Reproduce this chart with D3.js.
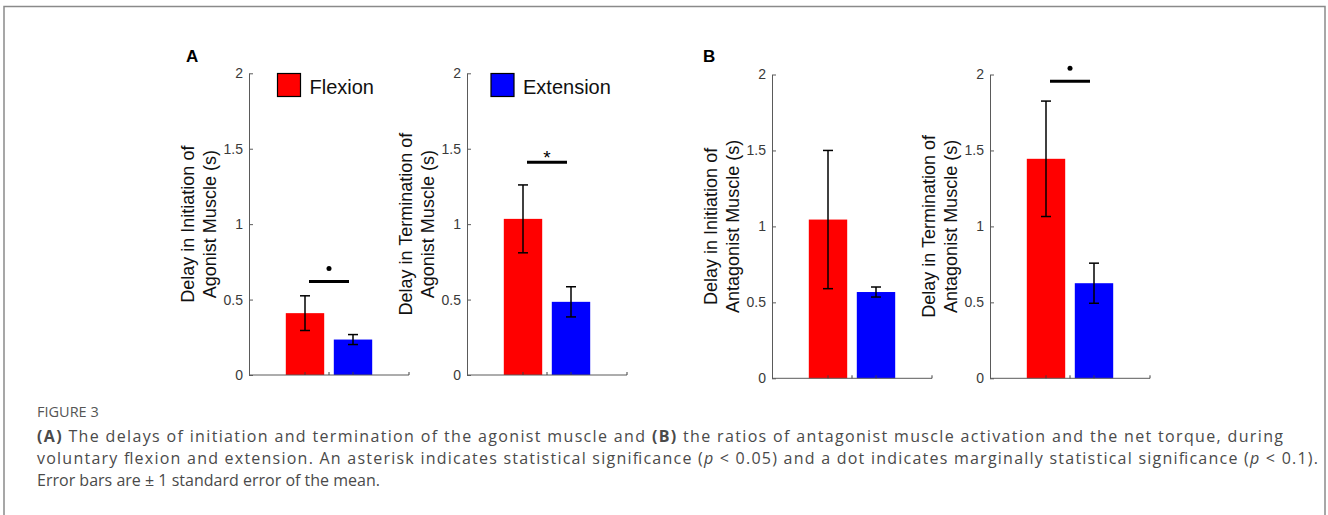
<!DOCTYPE html>
<html>
<head>
<meta charset="utf-8">
<script src="https://cdn.jsdelivr.net/npm/d3@7"></script>
<style>
  body { margin: 0; background: #fff; }
  svg { display: block; }
</style>
</head>
<body>
<div id="chart"></div>
<script>
// data
const categories = ["Flexion", "Extension"];
const yLabels = [
  ["Delay in Initiation of", "Agonist Muscle (s)"],
  ["Delay in Termination of", "Agonist Muscle (s)"],
  ["Delay in Initiation of", "Antagonist Muscle (s)"],
  ["Delay in Termination of", "Antagonist Muscle (s)"]
];
const flexionMean = [0.41, 1.035, 1.045, 1.445];
const flexionSE = [0.115, 0.225, 0.455, 0.38];
const extensionMean = [0.235, 0.485, 0.568, 0.626];
const extensionSE = [0.033, 0.10, 0.033, 0.132];
const sigMark = ["dot", "star", null, "dot"];
const sigLevel = [0.62, 1.41, null, 1.955];
const yTicks = [0, 0.5, 1, 1.5, 2];
const panelLetters = ["A", "B"];

const colors = { Flexion: "#ff0000", Extension: "#0000ff" };

// layout
const W = 1328, H = 515;
const panelLeft = [249, 467, 772, 990];
const panelTop = [73.3, 73.3, 74.5, 74.5];
const panelBottom = [375, 375, 378.3, 378.3];
const axisW = 160;

const svg = d3.select("#chart").append("svg")
  .attr("width", W)
  .attr("height", H);

// outer frame
svg.append("path")
  .attr("d", `M4,${H} V6.5 H1325 V${H}`)
  .attr("fill", "none")
  .attr("stroke", "#8a8a8a")
  .attr("stroke-width", 1.5);

const font = "'Liberation Sans', Arial, Helvetica, sans-serif";

panelLeft.forEach(function (left, p) {
  const g = svg.append("g");
  const y = d3.scaleLinear().domain([0, 2]).range([panelBottom[p], panelTop[p]]);
  const x = d3.scaleBand().domain(categories)
    .range([left + 32, left + 128])
    .paddingInner(0.2)
    .paddingOuter(0.1);

  const means = [flexionMean[p], extensionMean[p]];
  const ses = [flexionSE[p], extensionSE[p]];
  const rows = categories.map((c, i) => ({ cat: c, m: means[i], se: ses[i] }));

  // bars
  g.selectAll("rect.bar").data(rows).enter().append("rect")
    .attr("class", "bar")
    .attr("x", d => x(d.cat))
    .attr("width", x.bandwidth())
    .attr("y", d => y(d.m))
    .attr("height", d => y(0) - y(d.m))
    .attr("fill", d => colors[d.cat]);

  // y axis
  const ya = g.append("g")
    .attr("transform", `translate(${left},0)`)
    .call(d3.axisLeft(y).tickValues(yTicks).tickFormat(d => String(d))
      .tickSize(-4).tickSizeOuter(0).tickPadding(6));
  ya.attr("font-size", null).attr("font-family", null);
  ya.select(".domain").attr("stroke", "#5a5a5a");
  ya.selectAll(".tick line").attr("stroke", "#5a5a5a");
  ya.selectAll(".tick text")
    .attr("fill", "#3a3a3a")
    .style("font-family", font)
    .style("font-size", "14px");

  // x axis line and ticks
  g.append("line")
    .attr("x1", left).attr("x2", left + axisW)
    .attr("y1", y(0)).attr("y2", y(0))
    .attr("stroke", "#5a5a5a");
  const xt = categories.map(c => x(c) + x.bandwidth() / 2);
  xt.push((xt[0] + xt[1]) / 2, left + axisW);
  g.selectAll("line.xt").data(xt).enter().append("line")
    .attr("x1", d => d).attr("x2", d => d)
    .attr("y1", y(0)).attr("y2", y(0) - 3)
    .attr("stroke", "#404040");

  // error bars
  const eb = g.selectAll("g.err").data(rows).enter().append("g")
    .attr("stroke", "#000").attr("stroke-width", 1.5);
  eb.append("line")
    .attr("x1", d => x(d.cat) + x.bandwidth() / 2)
    .attr("x2", d => x(d.cat) + x.bandwidth() / 2)
    .attr("y1", d => y(d.m + d.se))
    .attr("y2", d => y(d.m - d.se));
  [1, -1].forEach(function (s) {
    eb.append("line")
      .attr("x1", d => x(d.cat) + x.bandwidth() / 2 - 5)
      .attr("x2", d => x(d.cat) + x.bandwidth() / 2 + 5)
      .attr("y1", d => y(d.m + s * d.se))
      .attr("y2", d => y(d.m + s * d.se));
  });

  // significance marks
  if (sigMark[p]) {
    const ly = y(sigLevel[p]);
    const x1 = xt[0] + 4, x2 = xt[1] - 4;
    g.append("line")
      .attr("x1", x1).attr("x2", x2)
      .attr("y1", ly).attr("y2", ly)
      .attr("stroke", "#000").attr("stroke-width", 3);
    if (sigMark[p] === "dot") {
      g.append("circle")
        .attr("cx", (x1 + x2) / 2).attr("cy", ly - 13)
        .attr("r", 2.5).attr("fill", "#000");
    } else {
      g.append("text")
        .attr("x", (x1 + x2) / 2).attr("y", ly + 2)
        .attr("text-anchor", "middle")
        .style("font-family", font).style("font-size", "19px")
        .text("*");
    }
  }

  // y label (two lines)
  const lab = g.append("text")
    .attr("transform", `translate(${left - 55},${(y(0) + y(2)) / 2}) rotate(-90)`)
    .attr("text-anchor", "middle")
    .attr("fill", "#111")
    .style("font-family", font)
    .style("font-size", "18px");
  lab.selectAll("tspan").data(yLabels[p]).enter().append("tspan")
    .attr("x", 0)
    .attr("dy", (d, i) => i === 0 ? 0 : 22)
    .text(d => d);
});

// panel letters
svg.selectAll("text.letter").data(panelLetters).enter().append("text")
  .attr("x", (d, i) => i === 0 ? 186 : 703)
  .attr("y", 62)
  .style("font-family", font)
  .style("font-size", "17px")
  .style("font-weight", "bold")
  .text(d => d);

// legend
const legX = [277.5, 491];
categories.forEach(function (c, i) {
  svg.append("rect")
    .attr("x", legX[i]).attr("y", 73.5)
    .attr("width", 23).attr("height", 23)
    .attr("fill", colors[c])
    .attr("stroke", "#000").attr("stroke-width", 1.2);
  svg.append("text")
    .attr("x", legX[i] + 32).attr("y", 94)
    .attr("fill", "#111")
    .style("font-family", font).style("font-size", "20px")
    .text(c);
});

// caption
const capFont = "'Open Sans', Lato, sans-serif";
svg.append("text")
  .attr("x", 37).attr("y", 417)
  .attr("fill", "#555")
  .style("font-family", capFont).style("font-size", "14.5px")
  .text("FIGURE 3");

const capLines = [
  [["(A)", "b"], [" The delays of initiation and termination of the agonist muscle and ", ""], ["(B)", "b"], [" the ratios of antagonist muscle activation and the net torque, during", ""]],
  [["voluntary flexion and extension. An asterisk indicates statistical significance (", ""], ["p", "i"], [" < 0.05) and a dot indicates marginally statistical significance (", ""], ["p", "i"], [" < 0.1).", ""]],
  [["Error bars are \u00b1 1 standard error of the mean.", ""]]
];
const capEnd = [1283, 1318, 380];
capLines.forEach(function (parts, li) {
  const t = svg.append("text")
    .attr("x", 37).attr("y", 442 + li * 22)
    .attr("fill", "#4a4a4a")
    .attr("textLength", capEnd[li] - 37)
    .attr("lengthAdjust", "spacing")
    .style("font-family", capFont).style("font-size", "16px");
  t.selectAll("tspan").data(parts).enter().append("tspan")
    .style("font-weight", d => d[1] === "b" ? "bold" : null)
    .style("font-style", d => d[1] === "i" ? "italic" : null)
    .text(d => d[0]);
});
</script>
</body>
</html>
